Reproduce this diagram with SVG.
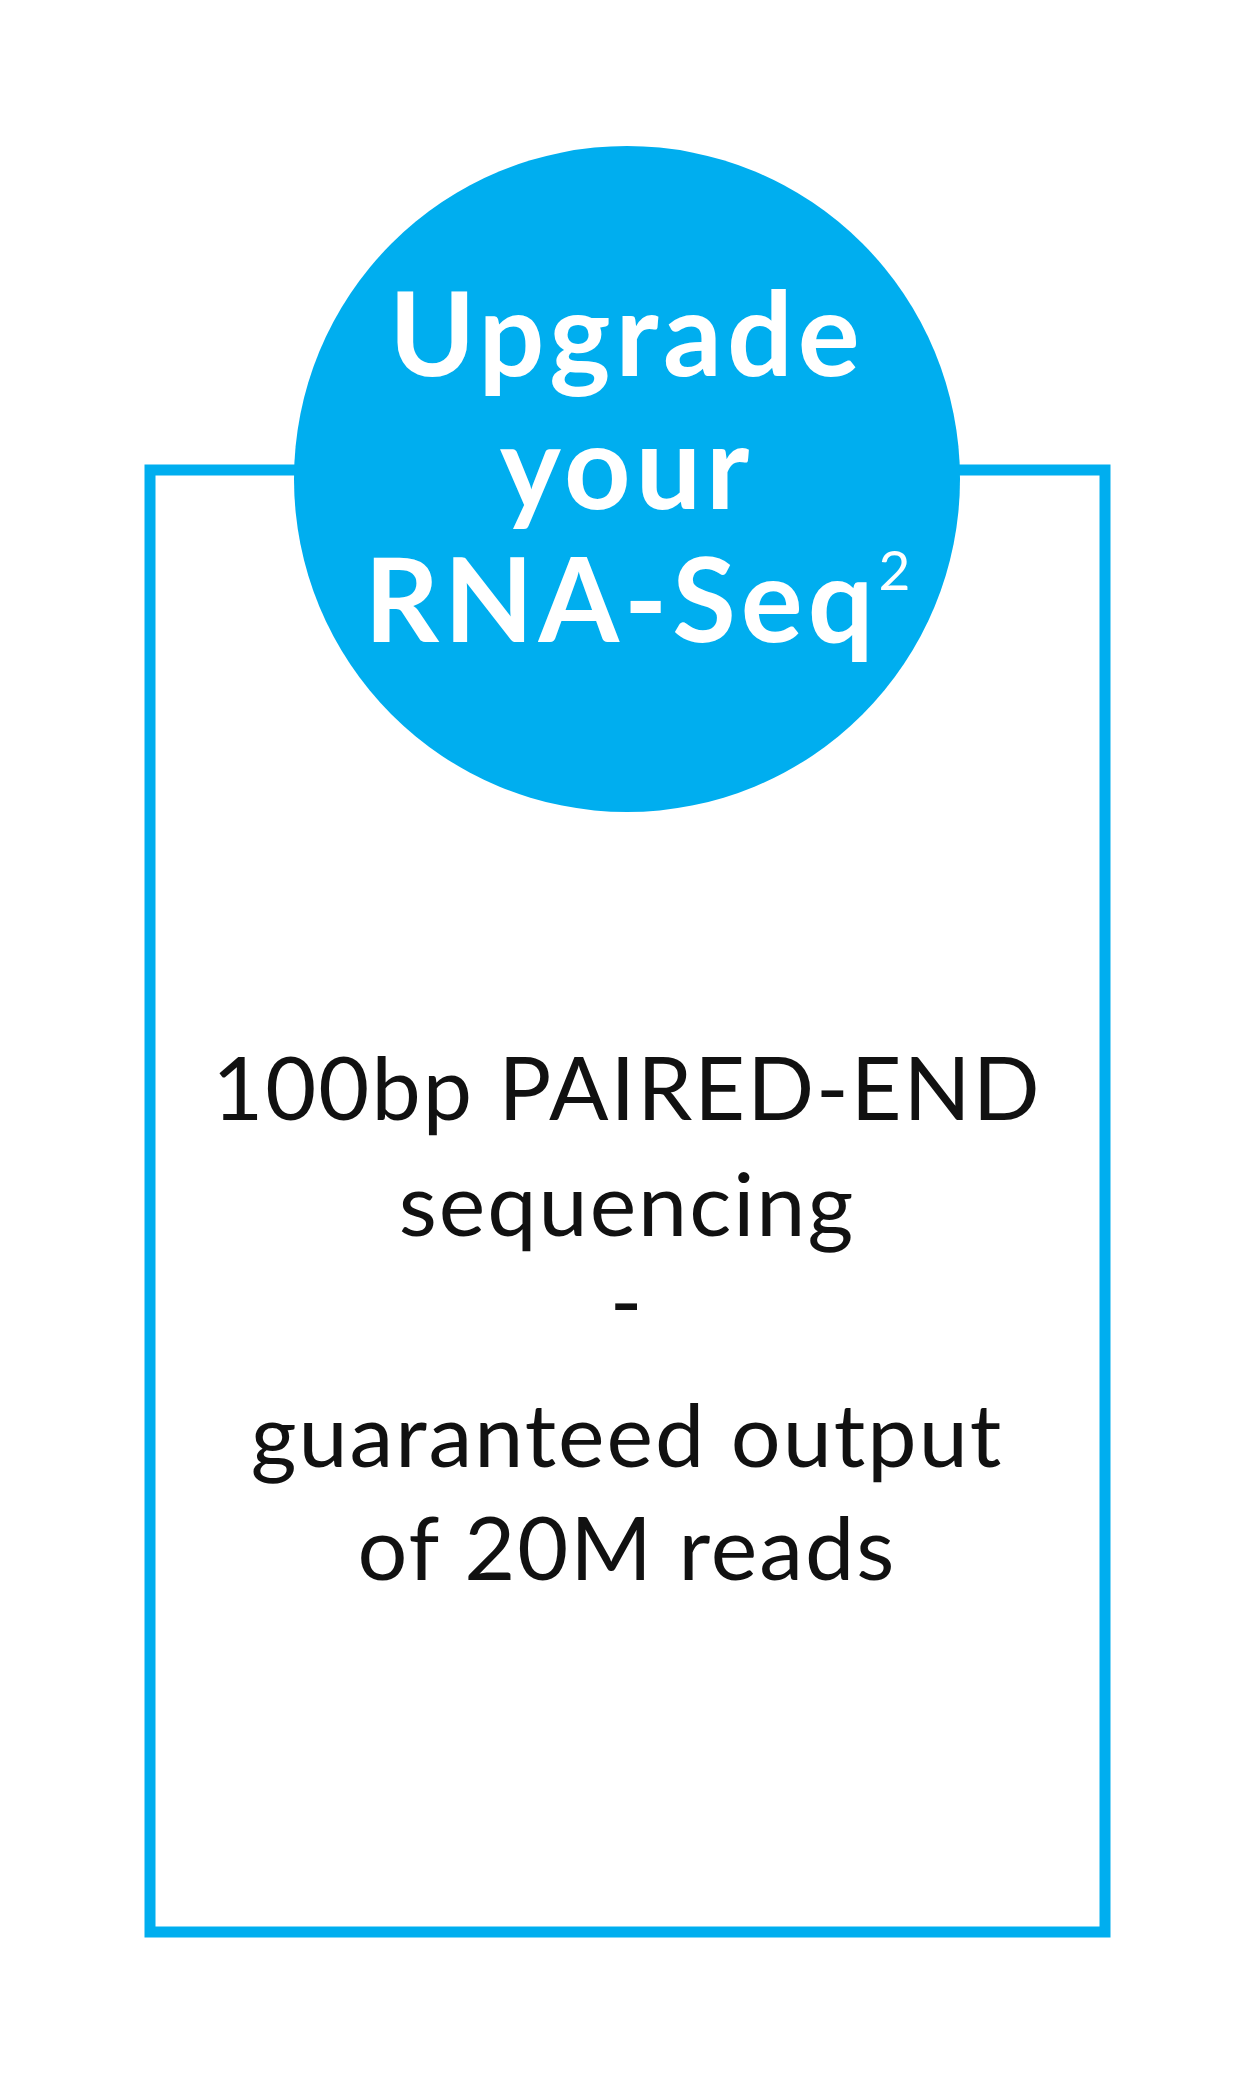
<svg xmlns="http://www.w3.org/2000/svg" width="1250" height="2083" viewBox="0 0 1250 2083">
<style>
.b{font-family:"Lato","Liberation Sans",sans-serif;text-anchor:middle;fill:#111;font-size:88px;letter-spacing:2px}
.h{font-family:"Lato","Liberation Sans",sans-serif;text-anchor:middle;fill:#fff;font-size:116px;font-weight:bold;letter-spacing:5px}
</style>
<rect width="1250" height="2083" fill="#fff"/>
<g id="box"><rect x="150" y="470" width="955" height="1462" fill="none" stroke="#00aeef" stroke-width="11"/>
<text class="b" x="627" y="1120">100bp PAIRED-END</text>
<text class="b" x="627" y="1236">sequencing</text>
<text class="b" x="627" y="1333">-</text>
<text class="b" x="627" y="1467">guaranteed output</text>
<text class="b" x="627" y="1580">of 20M reads</text></g>
<g id="circle"><circle cx="627" cy="479" r="333" fill="#00aeef"/>
<text class="h" x="627" y="376">Upgrade</text>
<text class="h" x="627" y="509">your</text>
<text class="h" x="640" y="642" letter-spacing="2">RNA-Seq<tspan font-size="55" font-weight="normal" dy="-52">2</tspan></text></g>
</svg>
